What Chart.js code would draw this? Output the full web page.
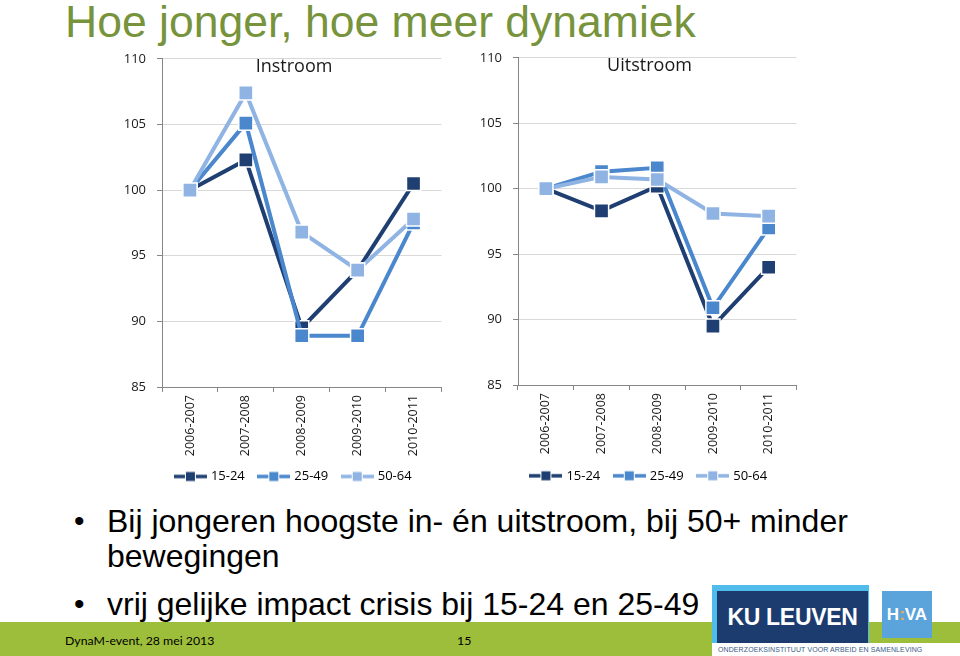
<!DOCTYPE html>
<html><head><meta charset="utf-8">
<script src="https://cdn.jsdelivr.net/npm/chart.js@4.4.0/dist/chart.umd.min.js"></script>
<style>
html,body{margin:0;padding:0;background:#fff;}
body{width:960px;height:656px;position:relative;overflow:hidden;font-family:"Liberation Sans",Arial,sans-serif;}
.abs{position:absolute;white-space:nowrap;}
#title{left:65px;top:0;font-size:44.5px;line-height:44px;color:#77933C;}
.bul{font-size:32px;line-height:32px;color:#000;}
.dot{font-size:30px;line-height:32px;color:#000;}
#greenA{left:0;top:622px;width:960px;height:21px;background:#9DBE3A;}
#greenB{left:0;top:643px;width:712px;height:13px;background:#9DBE3A;}
.foot{font-family:Lato,"Open Sans",sans-serif;font-size:12.3px;line-height:16px;color:#000;}
#kuOuter{left:712px;top:585px;width:157px;height:58px;background:#4FBCEB;}
#kuInner{left:717px;top:591px;width:151px;height:52px;background:#1C3C70;color:#fff;font-weight:bold;font-size:23px;line-height:52px;text-align:center;letter-spacing:-0.3px;}
#hiva{left:882px;top:591px;width:50px;height:47px;background:#5AA3DB;color:#fff;font-weight:bold;font-size:17px;line-height:47px;text-align:center;}
#sub{left:718px;top:645px;font-size:7px;line-height:10px;color:#3a5a86;letter-spacing:0.1px;}
</style>
</head>
<body>
<div class="abs" id="title">Hoe jonger, hoe meer dynamiek</div>

<div class="abs" style="left:100px;top:40px;width:353px;height:460px;"><canvas id="c1" width="353" height="460"></canvas></div>
<div class="abs" style="left:470px;top:39px;width:338px;height:459px;"><canvas id="c2" width="338" height="459"></canvas></div>

<div class="abs dot" style="left:74px;top:505px;">•</div>
<div class="abs bul" style="left:107px;top:505px;">Bij jongeren hoogste in- én uitstroom, bij 50+ minder</div>
<div class="abs bul" style="left:107px;top:540px;">bewegingen</div>
<div class="abs dot" style="left:74px;top:588px;">•</div>
<div class="abs bul" style="left:107px;top:588px;">vrij gelijke impact crisis bij 15-24 en 25-49</div>

<div class="abs" id="greenA"></div>
<div class="abs" id="greenB"></div>
<div class="abs foot" style="left:65px;top:633px;">DynaM-event, 28 mei 2013</div>
<div class="abs foot" style="left:457px;top:633px;">15</div>

<div class="abs" id="kuOuter"></div>
<div class="abs" id="kuInner">KU LEUVEN</div>
<div class="abs" id="hiva">H<span style="color:#F2B134">:</span>VA</div>
<div class="abs" id="sub">ONDERZOEKSINSTITUUT VOOR ARBEID EN SAMENLEVING</div>

<script>
// ---- data ----
const categories = ['2006-2007', '2007-2008', '2008-2009', '2009-2010', '2010-2011'];
const seriesNames = ['15-24', '25-49', '50-64'];
const yTicks = [85, 90, 95, 100, 105, 110];

const instroom1524 = [100, 102.3, 89.5, 93.9, 100.5];
const instroom2549 = [100, 105.1, 88.9, 88.9, 97.5];
const instroom5064 = [100, 107.4, 96.8, 93.9, 97.8];

const uitstroom1524 = [100, 98.3, 100.2, 89.5, 94.0];
const uitstroom2549 = [100, 101.3, 101.6, 90.9, 97.0];
const uitstroom5064 = [100, 100.9, 100.7, 98.1, 97.9];

// ---- styles ----
const colors = ['#1F3F72', '#4A87CD', '#8FB4E3'];
const TXT = '#1a1a1a';
const AXIS = '#868686';

function legendImage(color) {
  const c = document.createElement('canvas');
  c.width = 33; c.height = 12;
  const g = c.getContext('2d');
  g.strokeStyle = color; g.lineWidth = 3.5;
  g.beginPath(); g.moveTo(0, 6); g.lineTo(33, 6); g.stroke();
  g.fillStyle = color; g.fillRect(11.5, 1, 10, 10);
  g.strokeStyle = '#ffffff'; g.lineWidth = 1; g.strokeRect(11.5, 1, 10, 10);
  return c;
}
const legendImgs = colors.map(legendImage);

// moves legend / title boxes so they are centred like the original slide
const boxShift = {
  id: 'boxShift',
  afterLayout(chart, args, opts) {
    const lg = chart.legend;
    if (lg) {
      const h = lg.bottom - lg.top;
      lg.left = opts.left; lg.right = opts.right;
      lg.top = opts.legendTop; lg.bottom = opts.legendTop + h;
    }
    const tb = chart.titleBlock;
    if (tb) { tb.left = opts.left; tb.right = opts.right; }
  }
};

function makeDatasets(values) {
  return values.map((v, i) => ({
    label: seriesNames[i],
    data: v,
    borderColor: colors[i],
    backgroundColor: colors[i],
    borderWidth: 4,
    tension: 0,
    pointStyle: 'rect',
    pointRadius: 10,
    pointHoverRadius: 10,
    pointBackgroundColor: colors[i],
    pointBorderColor: '#ffffff',
    pointBorderWidth: 1.5,
    order: 3 - i
  }));
}

function makeChart(id, title, values, yWidth, boxLeft, boxRight, legendTop, titleTop, titleBottom) {
  return new Chart(document.getElementById(id), {
    type: 'line',
    data: { labels: categories, datasets: makeDatasets(values) },
    plugins: [boxShift],
    options: {
      responsive: false,
      devicePixelRatio: 1,
      animation: false,
      layout: { padding: 0 },
      plugins: {
        boxShift: { left: boxLeft, right: boxRight, legendTop: legendTop },
        tooltip: { enabled: false },
        title: {
          display: true, text: title, color: TXT,
          font: { family: 'Open Sans', size: 18, weight: 'normal', lineHeight: 1.2 },
          padding: { top: titleTop, bottom: titleBottom }
        },
        legend: {
          position: 'bottom',
          labels: {
            usePointStyle: true,
            pointStyleWidth: 28,
            padding: 15,
            color: '#404040',
            font: { family: 'Open Sans', size: 13 },
            generateLabels: (chart) => chart.data.datasets.map((ds, i) => ({
              text: ds.label, pointStyle: legendImgs[i], fillStyle: ds.borderColor,
              strokeStyle: ds.borderColor, lineWidth: 0, hidden: false, datasetIndex: i
            }))
          }
        }
      },
      scales: {
        x: {
          type: 'category',
          offset: true,
          grid: { offset: true, drawOnChartArea: false, drawTicks: true, tickLength: 5, color: AXIS },
          border: { color: AXIS, width: 1 },
          ticks: { minRotation: 90, maxRotation: 90, padding: 3, autoSkip: false, color: TXT,
                   font: { family: 'Open Sans', size: 12.5 } },
          afterFit: (s) => { s.height = 75; }
        },
        y: {
          min: yTicks[0], max: yTicks[yTicks.length - 1],
          afterBuildTicks: (s) => { s.ticks = yTicks.map(v => ({ value: v })); },
          ticks: { padding: 11, color: TXT, font: { family: 'Open Sans', size: 13 } },
          grid: { color: '#D9D9D9', tickColor: AXIS, tickLength: 5, lineWidth: 1 },
          border: { color: AXIS, width: 1 },
          afterFit: (s) => { s.width = yWidth; }
        }
      }
    }
  });
}

makeChart('c1', 'Instroom', [instroom1524, instroom2549, instroom5064], 62, 35, 353, 415, 13.5, -19.1);
makeChart('c2', 'Uitstroom', [uitstroom1524, uitstroom2549, uitstroom5064], 48, 21, 338, 415.3, 12.9, -18.5);
</script>
</body></html>
